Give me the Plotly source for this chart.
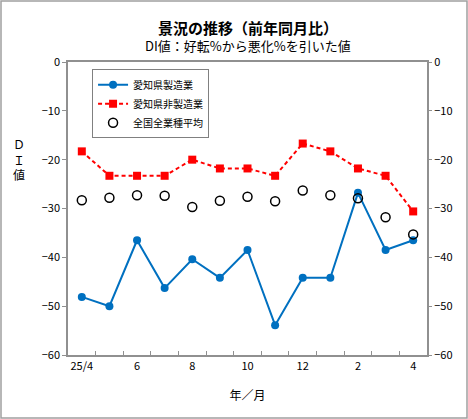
import plotly.graph_objects as go

# 年／月 (25/4 ～ 翌4月)
months = ["25/4", "25/5", "25/6", "25/7", "25/8", "25/9", "25/10",
          "25/11", "25/12", "26/1", "26/2", "26/3", "26/4"]
tick_labels = ["25/4", "", "6", "", "8", "", "10", "", "12", "", "2", "", "4"]

aichi_mfg = [-48.1, -50.0, -36.5, -46.3, -40.4, -44.2, -38.5,
             -53.9, -44.2, -44.2, -26.8, -38.5, -36.5]
aichi_nonmfg = [-18.3, -23.3, -23.3, -23.3, -20.0, -21.8, -21.8,
                -23.3, -16.7, -18.3, -21.8, -23.3, -30.6]
national_avg = [-28.3, -27.8, -27.3, -27.4, -29.7, -28.4, -27.6,
                -28.5, -26.3, -27.3, -27.9, -31.8, -35.3]

y_ticks = [0, -10, -20, -30, -40, -50, -60]

font_jp = "Noto Sans CJK JP"

fig = go.Figure()
fig.add_trace(go.Scatter(
    x=months, y=aichi_mfg, name="愛知県製造業", mode="lines+markers",
    line=dict(color="#0070C0", width=2),
    marker=dict(symbol="circle", size=8, color="#0070C0")
))
fig.add_trace(go.Scatter(
    x=months, y=aichi_nonmfg, name="愛知県非製造業", mode="lines+markers",
    line=dict(color="#FF0000", width=2, dash="4px,3px"),
    marker=dict(symbol="square", size=8, color="#FF0000")
))
fig.add_trace(go.Scatter(
    x=months, y=national_avg, name="全国全業種平均", mode="markers",
    marker=dict(symbol="circle-open", size=9, color="black",
                line=dict(width=1.5, color="black"))
))
# 右軸用（見えないトレース）
fig.add_trace(go.Scatter(
    x=months, y=national_avg, yaxis="y2", mode="markers",
    marker=dict(opacity=0), showlegend=False, hoverinfo="skip"
))

axis_font = dict(family=font_jp, size=11, color="black")

fig.update_layout(
    width=468, height=419,
    margin=dict(l=68, r=41, t=62, b=64),
    paper_bgcolor="white", plot_bgcolor="white",
    font=dict(family=font_jp, color="black"),
    showlegend=True,
    legend=dict(
        x=0.067, y=0.975, xanchor="left", yanchor="top",
        bgcolor="white", bordercolor="#808080", borderwidth=1,
        font=dict(family=font_jp, size=10, color="black"),
        tracegroupgap=0, itemwidth=30
    ),
    xaxis=dict(
        type="category", range=[-0.5, 12.5],
        tickvals=months, ticktext=tick_labels, tickson="boundaries",
        ticks="inside", ticklen=4, tickcolor="#909090", tickangle=0,
        showline=True, linecolor="#909090", linewidth=1.5, mirror=True,
        showgrid=False, tickfont=axis_font,
        title=dict(text="年／月", font=dict(family=font_jp, size=12), standoff=20)
    ),
    yaxis=dict(
        range=[-60, 0], tickvals=y_ticks, ticks="outside", ticklen=4,
        tickcolor="#909090", showline=True, linecolor="#909090", linewidth=1.5,
        mirror=True, showgrid=False, zeroline=False, tickfont=axis_font
    ),
    yaxis2=dict(
        range=[-60, 0], tickvals=y_ticks, overlaying="y", side="right",
        ticks="outside", ticklen=4, tickcolor="#909090", showline=False,
        showgrid=False, zeroline=False, tickfont=axis_font
    ),
    annotations=[
        dict(text="<b>景況の推移（前年同月比）</b>", xref="paper", yref="paper",
             x=0.5, y=1.0, yanchor="middle", yshift=35, showarrow=False,
             font=dict(family=font_jp, size=15)),
        dict(text="DI値：好転%から悪化%を引いた値", xref="paper", yref="paper",
             x=0.5, y=1.0, yanchor="middle", yshift=17, showarrow=False,
             font=dict(family=font_jp, size=13)),
        dict(text="Ｄ<br>Ｉ<br>値", xref="paper", yref="paper",
             x=0, xshift=-57, y=0.67, yanchor="middle", showarrow=False,
             font=dict(family=font_jp, size=12)),
    ],
    shapes=[
        dict(type="rect", xref="paper", yref="paper",
             x0=-67 / 359, x1=1 + 40 / 359, y0=-63 / 293, y1=1 + 61 / 293,
             line=dict(color="#A0A0A0", width=1.5))
    ]
)

fig.write_html("out.html", config={"displayModeBar": False},
               post_script="document.body.style.margin='0';")
